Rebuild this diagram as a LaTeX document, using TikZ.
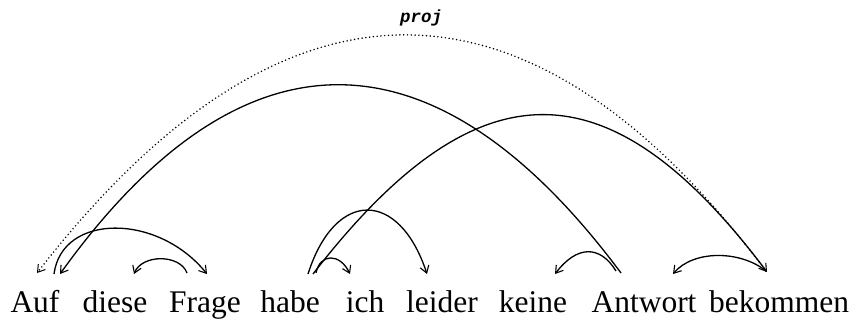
\documentclass[tikz,border=0pt]{standalone}
\usepackage{fontspec}
\setmainfont{Liberation Serif}
\setmonofont{Liberation Mono}
\usetikzlibrary{arrows.meta}
\tikzset{
  word/.style={anchor=base, inner sep=0pt, font=\fontsize{31.5}{31.5}\selectfont},
  dep/.style={line width=1.3pt, -{Straight Barb[length=7pt,width=9pt,line width=1.1pt]}},
  projdep/.style={line width=1.7pt, line cap=round, dash pattern=on 0pt off 3.8pt, -{Straight Barb[length=7pt,width=9pt,line width=1pt,line cap=butt]}},
  lab/.style={font=\fontsize{17.5}{17.5}\selectfont\ttfamily\itshape\bfseries, inner sep=0pt, anchor=base}
}
\begin{document}
\begin{tikzpicture}[x=1pt,y=-1pt]
\useasboundingbox (0,0) rectangle (864,325);
% words
\node[word] (w1) at (35,312) {Auf};
\node[word] (w2) at (115,312) {diese};
\node[word] (w3) at (205,312) {Frage};
\node[word] (w4) at (290,312) {habe};
\node[word] (w5) at (365,312) {ich};
\node[word] (w6) at (442,312) {leider};
\node[word] (w7) at (533,312) {keine};
\node[word] (w8) at (644,312) {Antwort};
\node[word] (w9) at (779,312) {bekommen};
% arc endpoints
\coordinate (aufP) at (37,273);
\coordinate (aufL) at (60,274);
\coordinate (aufS) at (54,274);
\coordinate (dieseE) at (134,274);
\coordinate (frageE) at (207,274);
\coordinate (frageS) at (187,273);
\coordinate (habeS1) at (308,274);
\coordinate (habeS2) at (313,274);
\coordinate (habeS3) at (316,273);
\coordinate (ichE) at (350,274);
\coordinate (leiderE) at (427,274);
\coordinate (keineE) at (555,274);
\coordinate (antwS) at (621,273);
\coordinate (antwS2) at (616,271);
\coordinate (antwE) at (673,274);
\coordinate (bekE) at (767,272);
\coordinate (bekS) at (766,271);
% proj arc
\draw[projdep] (bekS) .. controls (529,-44) and (283,-44) .. (aufP);
\node[lab] (proj) at (421,22) {proj};
% long arcs
\draw[dep] (antwS) .. controls (434,22) and (241,22) .. (aufL);
\draw[dep] (habeS2) .. controls (477,62) and (609,62) .. (bekE);
% short arcs
\draw[dep] (aufS) .. controls (62,213) and (158,213) .. (frageE);
\draw[dep] (frageS) .. controls (180,254) and (142,254) .. (dieseE);
\draw[dep] (habeS3) .. controls (320,253) and (340,253) .. (ichE);
\draw[dep] (habeS1) .. controls (335,189) and (399,189) .. (leiderE);
\draw[dep] (antwS2) .. controls (600,245) and (577,245) .. (keineE);
\draw[dep] (bekS) .. controls (740,250) and (693,250) .. (antwE);
\end{tikzpicture}
\end{document}
